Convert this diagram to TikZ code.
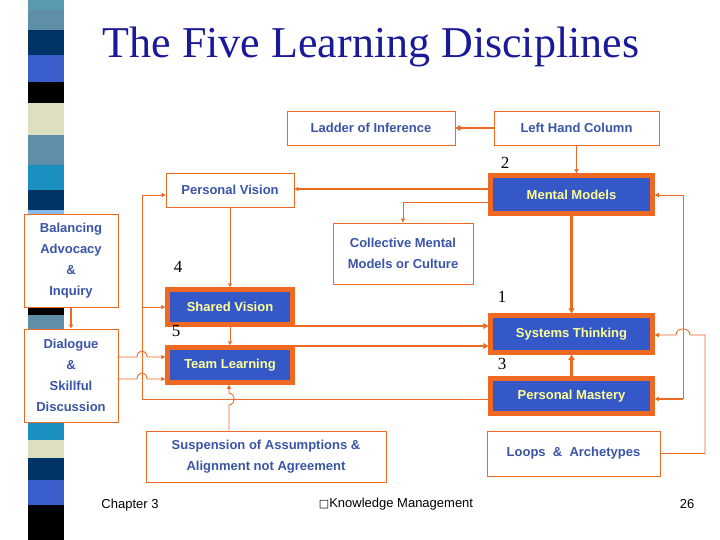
\documentclass[tikz,border=0pt]{standalone}
\usepackage{fontspec}
\setmainfont{Liberation Sans}
\newfontfamily\serifx{Liberation Serif}
\newfontfamily\dejav{DejaVu Sans}
\usetikzlibrary{arrows.meta}
\definecolor{org}{HTML}{EE6A22}
\definecolor{txtb}{HTML}{3A55A8}
\definecolor{fillb}{HTML}{3558C8}
\definecolor{yel}{HTML}{FFFF99}
\definecolor{ttl}{HTML}{1A1A99}
\tikzset{
 wbox/.style={draw=org,line width=0.8pt,fill=white,text=txtb,font=\fontsize{13}{21}\selectfont\bfseries,align=center,inner sep=1pt},
 bbox/.style={draw=org,line width=4.5pt,fill=fillb,text=yel,font=\fontsize{13}{15}\selectfont\bfseries,align=center,inner sep=1pt},
 thin/.style={draw=org,line width=0.9pt,-{Triangle[length=4pt,width=4pt]}},
 thick/.style={draw=org,line width=2.5pt,-{Triangle[length=5pt,width=6pt]}},
 plain/.style={draw=org,line width=0.9pt},
 num/.style={font=\serifx\fontsize{17}{17}\selectfont},
 foot/.style={font=\fontsize{13}{15}\selectfont}
}
\begin{document}
\begin{tikzpicture}[x=1pt,y=-1pt]
\useasboundingbox (0,0) rectangle (720,540);
\fill[white] (0,0) rectangle (720,540);
% left strip
\foreach \a/\b/\c in {0/10/5A9AB0,10/30/5F8FA8,30/55/003366,55/82/3A5FCD,82/103/000000,103/135/DDDFC0,135/165/5F8FA8,165/190/1A8FC0,190/210/003366,210/216/88BBEE,300/315/000000,315/330/5F8FA8,420/440/1A8FC0,440/458/DDDFC0,458/480/003366,480/505/3A5FCD,505/540/000000}
  {\definecolor{sc}{HTML}{\c}\fill[sc] (28,\a) rectangle (64,\b);}
\node[font=\serifx\fontsize{44}{48}\selectfont,text=ttl] (title) at (371,47) {The Five Learning Disciplines};
% boxes
\node[wbox,minimum width=168,minimum height=34] (lad) at (371,128) {Ladder of Inference};
\node[wbox,minimum width=165,minimum height=34] (lhc) at (576.5,128) {Left Hand Column};
\node[wbox,minimum width=128,minimum height=34] (pv) at (230,190) {Personal Vision};
\node[bbox,minimum width=162,minimum height=38] (mm) at (571.5,194.5) {Mental Models};
\node[wbox,minimum width=140,minimum height=61] (cmm) at (403,253.5) {Collective Mental\\Models or Culture};
\node[wbox,minimum width=94,minimum height=93] (bal) at (71,260.5) {Balancing\\Advocacy\\\&\\Inquiry};
\node[bbox,minimum width=125,minimum height=35] (sv) at (230,307) {Shared Vision};
\node[wbox,minimum width=94,minimum height=93] (dlg) at (71,375.5) {Dialogue\\\&\\Skillful\\Discussion};
\node[bbox,minimum width=125,minimum height=35] (tl) at (230,365) {Team Learning};
\node[bbox,minimum width=162,minimum height=37] (st) at (571.5,334) {Systems Thinking};
\node[bbox,minimum width=162,minimum height=35] (pm) at (571.5,396) {Personal Mastery};
\node[wbox,minimum width=240,minimum height=51] (sus) at (266,456.5) {Suspension of Assumptions \&\\Alignment not Agreement};
\node[wbox,minimum width=173,minimum height=45] (loop) at (573.5,453.5) {Loops\ \ \&\ \ Archetypes};
% numbers
\node[num] (n2) at (505,163) {2};
\node[num] (n4) at (178,267) {4};
\node[num] (n1) at (502,297) {1};
\node[num] (n5) at (176,331) {5};
\node[num] (n3) at (502,364) {3};
% footer
\node[foot] (f1) at (130,505) {Chapter 3};
\node[foot] (f2) at (396,504) {{\dejav\fontsize{11}{13}\selectfont □}Knowledge Management};
\node[foot] (f4) at (687,504) {26};
% connectors
\draw[thick,line width=2pt] (lhc.west) -- (lad.east);
\draw[thin] (lhc.south) -- (lhc.south |- mm.north);
\draw[thin,line width=1.4pt] (mm.west |- 0,189) -- (pv.east |- 0,189);
\draw[thin] (mm.west |- 0,202) -- (403,202) -- (cmm.north);
\draw[thick] (mm.south) -- (st.north);
\draw[thin] (pv.south) -- (sv.north);
\draw[thin] (sv.south) -- (tl.north);
\draw[thick] (sv.east |- 0,326) -- (st.west |- 0,326);
\draw[thick] (tl.east |- 0,346) -- (st.west |- 0,346);
\draw[thick] (pm.north) -- (st.south);
\draw[thin,line width=1.4pt] (bal.south) -- (dlg.north);
% left bus
\draw[plain] (pm.west |- 0,399) -- (142,399) -- (142,195);
\draw[thin] (142,195) -- (pv.west |- 0,195);
\draw[thin] (142,307) -- (sv.west);
\draw[thin] (dlg.east |- 0,357) -- (137,357) .. controls (137,349) and (147,349) .. (147,357) -- (tl.west |- 0,357);
\draw[thin] (dlg.east |- 0,379) -- (137,379) .. controls (137,371) and (147,371) .. (147,379) -- (tl.west |- 0,379);
\draw[thin] (sus.north -| 229,0) -- (229,405) .. controls (236,404) and (236,394) .. (229,393) -- (tl.south -| 229,0);
% right bus
\draw[plain] (683,195) -- (683,399);
\draw[thin] (683,195) -- (mm.east |- 0,195);
\draw[thin,line width=1.4pt] (683,399) -- (pm.east |- 0,399);
\draw[thin] (loop.east) -- (705,453.5) -- (705,335) -- (690,335) .. controls (690,327) and (676,327) .. (676,335) -- (st.east |- 0,335);
\end{tikzpicture}
\end{document}
